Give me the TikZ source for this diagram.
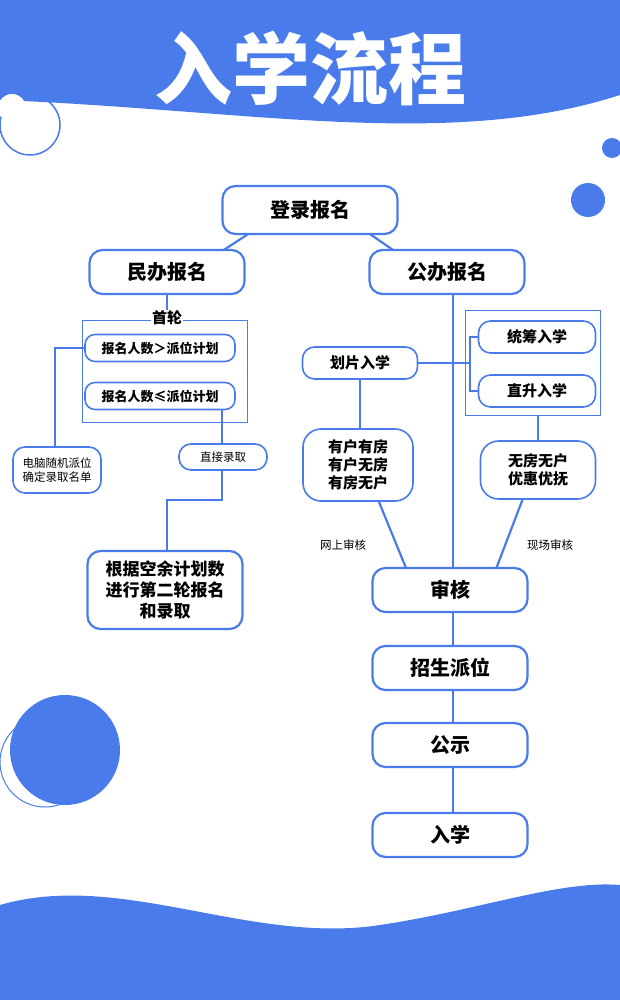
\documentclass[tikz,border=0pt]{standalone}
\usepackage{fontspec}
\setmainfont{Noto Sans CJK SC}
\usetikzlibrary{positioning}
\definecolor{flowblue}{HTML}{4A7BEA}
\tikzset{
  stage/.style={draw=flowblue, line width=2.2pt, rounded corners=13pt, fill=white,
    font=\fontsize{20}{24}\selectfont\bfseries, align=center, minimum height=44pt},
  substage/.style={stage, line width=1.6pt, rounded corners=12pt,
    font=\fontsize{15}{18}\selectfont\bfseries},
  cond/.style={draw=flowblue, line width=1.6pt, rounded corners=10pt, fill=white,
    font=\fontsize{13}{15}\selectfont\bfseries, minimum width=150pt, minimum height=27pt},
  note/.style={draw=flowblue, line width=1.6pt, rounded corners=12pt, fill=white,
    font=\fontsize{11.5}{14}\selectfont, align=center},
  link/.style={draw=flowblue, line width=2.2pt},
  frame/.style={draw=flowblue, line width=0.9pt}
}
\begin{document}
\begin{tikzpicture}[x=1pt, y=-1pt]
    \useasboundingbox (0,0) rectangle (620,1000);
    % header and decorations
    \fill[flowblue] (0,0) -- (620,0) -- (620,95) .. controls (450,150) and (250,110) .. (0,100) -- cycle;
    \node[text=white, font=\fontsize{78}{80}\selectfont\bfseries] (title) at (310,68) {入学流程};
    \draw[flowblue, line width=1.5pt] (30,125) circle (30);
    \fill[white] (12,108) circle (14);
    \fill[flowblue] (612,148) circle (10);
    \fill[flowblue] (588,200) circle (17);
    \draw[flowblue, line width=1pt] (45,762) circle (45);
    \fill[flowblue] (65,750) circle (55);
    \fill[flowblue] (0,905) .. controls (120,870) and (250,945) .. (380,925)
        .. controls (480,910) and (560,880) .. (620,885) -- (620,1000) -- (0,1000) -- cycle;

    % connectors first, nodes on top
    \draw[link] (453,272) -- (453,835);
    \draw[link] (285,210) -- (190,272);
    \draw[link] (335,210) -- (425,272);
    \draw[link] (167,272) -- (167,318);
    \draw[link] (160,348) -- (55,348) -- (55,470);
    \draw[link] (222,396) -- (222,457);
    \draw[link] (222,457) -- (222,500) -- (167,500) -- (167,590);
    \draw[link] (360,363) -- (470,363);
    \draw[link] (537,337) -- (470,337) -- (470,391) -- (537,391);
    \draw[link] (360,363) -- (360,465);
    \draw[link] (538,415) -- (538,470);
    \draw[link] (370,480) -- (415,590);
    \draw[link] (530,480) -- (488,590);

    % frames
    \draw[frame] (82,320) rectangle (247,422);
    \draw[frame] (465,310) rectangle (600,415);

    % nodes
    \node[stage, minimum width=175pt, minimum height=48pt] (login) at (310,210) {登录报名};
    \node[stage, minimum width=155pt] (private) at (167,272) {民办报名};
    \node[stage, minimum width=155pt] (public) at (447,272) {公办报名};
    \node[fill=white, font=\fontsize{15}{17}\selectfont\bfseries, inner sep=1pt] (first) at (167,318) {首轮};
    \node[cond] (more) at (160,348) {报名人数＞派位计划};
    \node[cond] (less) at (160,396) {报名人数≤派位计划};
    \node[note, minimum width=88pt, minimum height=46pt] (random) at (57,470) {电脑随机派位\\确定录取名单};
    \node[note, minimum width=88pt, minimum height=26pt] (direct) at (223,457) {直接录取};
    \node[stage, minimum width=155pt, minimum height=78pt, font=\fontsize{17}{21}\selectfont\bfseries] (second) at (165,590) {根据空余计划数\\进行第二轮报名\\和录取};
    \node[substage, minimum width=115pt, minimum height=32pt] (zone) at (360,363) {划片入学};
    \node[substage, minimum width=117pt, minimum height=32pt] (plan) at (537,337) {统筹入学};
    \node[substage, minimum width=117pt, minimum height=32pt] (up) at (537,391) {直升入学};
    \node[substage, minimum width=110pt, minimum height=72pt, rounded corners=18pt] (house) at (358,465) {有户有房\\有户无房\\有房无户};
    \node[substage, minimum width=115pt, minimum height=58pt, rounded corners=18pt] (none) at (538,470) {无房无户\\优惠优抚};
    \node[font=\fontsize{11.5}{14}\selectfont] (online) at (343,545) {网上审核};
    \node[font=\fontsize{11.5}{14}\selectfont] (onsite) at (550,545) {现场审核};
    \node[stage, minimum width=155pt] (check) at (450,590) {审核};
    \node[stage, minimum width=155pt] (assign) at (450,668) {招生派位};
    \node[stage, minimum width=155pt] (show) at (450,745) {公示};
    \node[stage, minimum width=155pt] (enter) at (450,835) {入学};
\end{tikzpicture}
\end{document}
